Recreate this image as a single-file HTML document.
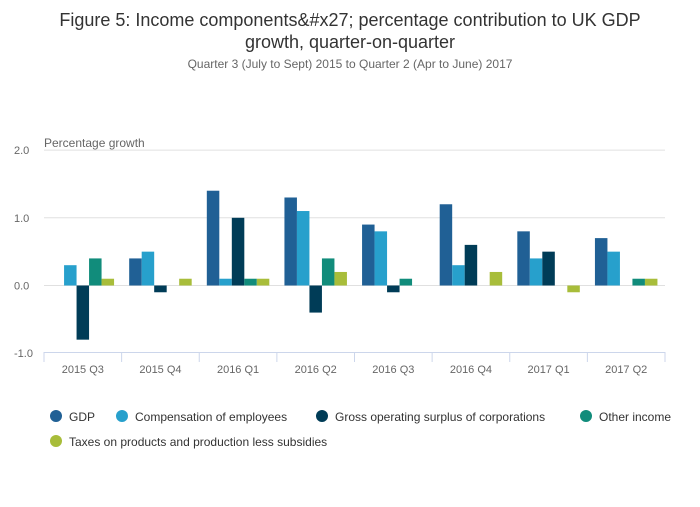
<!DOCTYPE html>
<html><head><meta charset="utf-8"><style>
body{margin:0;background:#fff;font-family:"Liberation Sans",sans-serif;}
svg text{font-family:"Liberation Sans",sans-serif;}
</style></head><body>
<svg width="700" height="502" id="c">
<text x="350" y="26" text-anchor="middle" font-size="18" fill="#333">Figure 5: Income components&amp;#x27; percentage contribution to UK GDP</text>
<text x="350" y="48" text-anchor="middle" font-size="18" fill="#333">growth, quarter-on-quarter</text>
<text x="350" y="68" text-anchor="middle" font-size="12" fill="#666">Quarter 3 (July to Sept) 2015 to Quarter 2 (Apr to June) 2017</text>
<text x="44" y="147" font-size="12" fill="#666">Percentage growth</text>
<g id="grid"></g><g id="bars"></g><g id="xaxis"></g><g id="legend"></g>
</svg>
<script>
const categories=["2015 Q3","2015 Q4","2016 Q1","2016 Q2","2016 Q3","2016 Q4","2017 Q1","2017 Q2"];
const gdp=[0,0.4,1.4,1.3,0.9,1.2,0.8,0.7];
const comp=[0.3,0.5,0.1,1.1,0.8,0.3,0.4,0.5];
const gos=[-0.8,-0.1,1.0,-0.4,-0.1,0.6,0.5,0];
const other=[0.4,0,0.1,0.4,0.1,0,0,0.1];
const taxes=[0.1,0.1,0.1,0.2,0,0.2,-0.1,0.1];
const seriesNames=["GDP","Compensation of employees","Gross operating surplus of corporations","Other income","Taxes on products and production less subsidies"];
const yTicks=[2,1,0,-1];
const yTickLabels=["2.0","1.0","0.0","-1.0"];
const colors=["#206095","#27a0cc","#003c57","#118c7b","#a8bd3a"];
const series=[gdp,comp,gos,other,taxes];
const NS="http://www.w3.org/2000/svg";
const X0=44,X1=665,Y0=285.5,PU=67.7;
const y=v=>Y0-v*PU;
const cw=(X1-X0)/categories.length;
const bw=12.5;
function mk(t,a,p){const e=document.createElementNS(NS,t);for(const k in a)e.setAttribute(k,a[k]);p.appendChild(e);return e;}
const grid=document.getElementById('grid');
yTicks.forEach((t,i)=>{
 if(t>-1){const l=mk('line',{x1:X0,x2:X1,y1:y(t),y2:y(t),stroke:'#e0e0e0','stroke-width':1},grid);
 
 }
 const tx=mk('text',{x:14,y:y(t)+4,'font-size':11,fill:'#666'},grid);tx.textContent=yTickLabels[i];
 
 
});
const bars=document.getElementById('bars');
categories.forEach((c,ci)=>{
 const cx=X0+cw*(ci+0.5);
 series.forEach((s,si)=>{
  const v=s[ci]; if(v===0)return;
  const r=mk('rect',{x:cx-2.5*bw+si*bw,y:Math.min(y(v),Y0),width:bw,height:Math.abs(v*PU),fill:colors[si]},bars);
  
  
 });
});
const xa=document.getElementById('xaxis');
const al=mk('line',{x1:X0,x2:X1,y1:352.5,y2:352.5,stroke:'#ccd6eb'},xa);


for(let i=0;i<=categories.length;i++){const t=mk('line',{x1:X0+cw*i,x2:X0+cw*i,y1:352,y2:362,stroke:'#ccd6eb'},xa);
 
 }
categories.forEach((c,i)=>{const t=mk('text',{x:X0+cw*(i+0.5),y:373,'text-anchor':'middle','font-size':11,fill:'#666'},xa);t.textContent=c;
 
 });
const lg=document.getElementById('legend');
const lp=[[56,416],[122,416],[322,416],[586,416],[56,441]];
seriesNames.forEach((n,i)=>{
 const g=mk('g',{},lg);
 
 
 mk('circle',{cx:lp[i][0],cy:lp[i][1],r:6,fill:colors[i]},g);
 const t=mk('text',{x:lp[i][0]+13,y:lp[i][1]+5,'font-size':12,fill:'#333'},g);t.textContent=n;
});
</script>
</body></html>
